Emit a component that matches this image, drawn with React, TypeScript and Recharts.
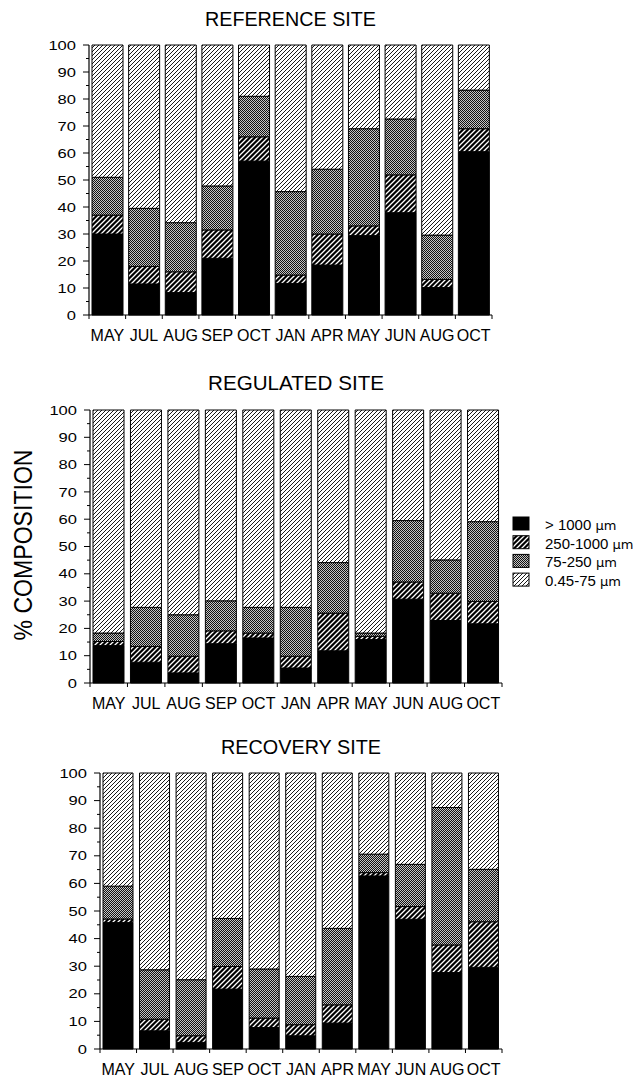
import { BarChart, Bar, XAxis, YAxis } from "recharts";

const months = ["MAY", "JUL", "AUG", "SEP", "OCT", "JAN", "APR", "MAY", "JUN", "AUG", "OCT"];
const yTicks = [0, 5, 10, 15, 20, 25, 30, 35, 40, 45, 50, 55, 60, 65, 70, 75, 80, 85, 90, 95, 100];

// REFERENCE SITE (% composition by size class)
const refOver1000 = [30, 11.5, 8.3, 21, 57, 11.7, 18.5, 29.4, 37.9, 10.2, 60.5];
const ref250to1000 = [7, 6.5, 7.7, 10.5, 9, 3.1, 11.5, 3.6, 14, 3, 8.5];
const ref75to250 = [14, 21.5, 18.2, 16.3, 15, 30.9, 24, 36, 20.7, 16.4, 14.3];
const ref045to75 = [49, 60.5, 65.8, 52.2, 19, 54.3, 46, 31, 27.4, 70.4, 16.7];

// REGULATED SITE
const regOver1000 = [13.7, 7.6, 3.7, 14.4, 16.5, 5.5, 11.8, 15.9, 30.7, 22.9, 21.7];
const reg250to1000 = [1.5, 5.8, 6.1, 4.7, 1.8, 4.3, 13.8, 1.2, 6.3, 10, 8.2];
const reg75to250 = [3.1, 14.3, 15.2, 11, 9.4, 17.9, 18.5, 1.2, 22.5, 12.2, 29.2];
const reg045to75 = [81.7, 72.3, 75, 69.9, 72.3, 72.3, 55.9, 81.7, 40.5, 54.9, 40.9];

// RECOVERY SITE
const recOver1000 = [45.8, 6.6, 2.4, 21.7, 7.8, 4.8, 9.4, 62.7, 47, 27.7, 29.6];
const rec250to1000 = [1.3, 4.2, 2.4, 8.2, 3.4, 4, 6.6, 1.2, 4.6, 10, 16.5];
const rec75to250 = [11.9, 17.9, 20.3, 17.4, 17.8, 17.5, 27.7, 6.7, 15.3, 49.8, 19];
const rec045to75 = [41, 71.3, 74.9, 52.7, 71, 73.7, 56.3, 29.4, 33.1, 12.5, 34.9];

const legendLabels = ["> 1000 ", "250-1000 ", "75-250 ", "0.45-75 "];

const FONT = "'Liberation Sans', Arial, Helvetica, sans-serif";
const Y_W = 60;
const X_H = 30;

function rows(a: number[], b: number[], c: number[], d: number[]) {
  return months.map((m, i) => ({ idx: i, month: m, a: a[i], b: b[i], c: c[i], d: d[i] }));
}

const charts = [
  { title: "REFERENCE SITE", top: 0, height: 350, plotLeft: 89, plotRight: 492, plotTop: 45, plotBottom: 315, barSize: 31, data: rows(refOver1000, ref250to1000, ref75to250, ref045to75), titleY: 25.5, titleLen: 171 },
  { title: "REGULATED SITE", top: 360, height: 360, plotLeft: 90, plotRight: 502, plotTop: 410, plotBottom: 683, barSize: 31, data: rows(regOver1000, reg250to1000, reg75to250, reg045to75), titleY: 390, titleLen: 176 },
  { title: "RECOVERY SITE", top: 725, height: 356, plotLeft: 100, plotRight: 502, plotTop: 773, plotBottom: 1049, barSize: 30, data: rows(recOver1000, rec250to1000, rec75to250, rec045to75), titleY: 753.5, titleLen: 160 },
];

function YTick(props: any) {
  const { x, y, payload } = props;
  const ax = x + 9;
  const major = payload.value % 10 === 0;
  const s = String(payload.value);
  return (
    <g>
      <line x1={ax - (major ? 6 : 3)} x2={ax} y1={y} y2={y} stroke="#000" strokeWidth={1} />
      {major && (
        <text
          x={ax - 13}
          y={y}
          dy={4.6}
          textAnchor="end"
          fontSize={13}
          fontFamily={FONT}
          fill="#000"
          textLength={9.2 * s.length}
          lengthAdjust="spacingAndGlyphs"
        >
          {s}
        </text>
      )}
    </g>
  );
}

function makeXTick(band: number) {
  return function XTick(props: any) {
    const { x, y, payload, index } = props;
    const ay = y - 4;
    return (
      <g>
        <line x1={x - band / 2} x2={x - band / 2} y1={ay} y2={ay + 4} stroke="#000" />
        {index === months.length - 1 && (
          <line x1={x + band / 2} x2={x + band / 2} y1={ay} y2={ay + 4} stroke="#000" />
        )}
        <text x={x} y={ay + 26} textAnchor="middle" fontSize={16} fontFamily={FONT} fill="#000">
          {months[payload.value]}
        </text>
      </g>
    );
  };
}

function Patterns() {
  return (
    <svg width={0} height={0} style={{ position: "absolute" }}>
      <defs>
        <pattern id="pFine" patternUnits="userSpaceOnUse" width={4} height={4}>
          <rect width={4} height={4} fill="#fff" />
          <path d="M0,4 L4,0 M-1,1 L1,-1 M3,5 L5,3" stroke="#000" strokeWidth={0.9} />
        </pattern>
        <pattern id="pCoarse" patternUnits="userSpaceOnUse" width={5} height={5}>
          <rect width={5} height={5} fill="#000" />
          <path d="M0,5 L5,0 M-1,1 L1,-1 M4,6 L6,4" stroke="#fff" strokeWidth={1.3} />
        </pattern>
        <pattern id="pDots" patternUnits="userSpaceOnUse" width={2} height={2}>
          <rect width={2} height={2} fill="#c4c4c4" />
          <rect x={0} y={0} width={1} height={1} fill="#111" />
          <rect x={1} y={1} width={1} height={1} fill="#111" />
        </pattern>
      </defs>
    </svg>
  );
}

const fills = ["#000", "url(#pCoarse)", "url(#pDots)", "url(#pFine)"];

export default function App() {
  return (
    <div style={{ position: "absolute", left: 0, top: 0, width: 638, height: 1081, background: "#fff", fontFamily: FONT }}>
      <Patterns />
      {charts.map((c, ci) => {
        const band = (c.plotRight - c.plotLeft) / months.length;
        const XTick = makeXTick(band);
        return (
          <div key={ci} style={{ position: "absolute", left: 0, top: c.top }}>
            <BarChart
              width={638}
              height={c.height}
              data={c.data}
              barCategoryGap={0}
              margin={{
                left: c.plotLeft - Y_W,
                right: 638 - c.plotRight,
                top: c.plotTop - c.top,
                bottom: c.top + c.height - c.plotBottom - X_H,
              }}
            >
              <XAxis
                dataKey="idx"
                type="category"
                height={X_H}
                tickLine={false}
                tickSize={4}
                tickMargin={0}
                axisLine={{ stroke: "#000", strokeWidth: 1.2 }}
                tick={<XTick />}
                interval={0}
              />
              <YAxis
                width={Y_W}
                domain={[0, 100]}
                ticks={yTicks}
                interval={0}
                tickLine={false}
                tickSize={6}
                tickMargin={3}
                axisLine={{ stroke: "#000", strokeWidth: 1.2 }}
                tick={<YTick />}
              />
              {["a", "b", "c", "d"].map((k, i) => (
                <Bar
                  key={k}
                  dataKey={k}
                  stackId="s"
                  fill={fills[i]}
                  stroke="#000"
                  strokeWidth={1}
                  barSize={c.barSize}
                  isAnimationActive={false}
                />
              ))}
            </BarChart>
          </div>
        );
      })}
      <svg width={638} height={1081} style={{ position: "absolute", left: 0, top: 0, pointerEvents: "none" }}>
        {charts.map((c, ci) => (
          <text
            key={ci}
            x={(c.plotLeft + c.plotRight) / 2}
            y={c.titleY}
            textAnchor="middle"
            fontSize={19.5}
            fontFamily={FONT}
            textLength={c.titleLen}
            lengthAdjust="spacingAndGlyphs"
          >
            {c.title}
          </text>
        ))}
        <text
          transform="translate(32,545) rotate(-90)"
          textAnchor="middle"
          fontSize={25}
          fontFamily={FONT}
          textLength={191}
          lengthAdjust="spacingAndGlyphs"
        >
          % COMPOSITION
        </text>
        {legendLabels.map((l, i) => (
          <g key={i}>
            <rect x={513} y={517 + i * 18.7} width={16} height={13} fill={fills[i]} stroke="#000" strokeWidth={1} />
            <text x={545} y={530 + i * 18.7} fontSize={15} fontFamily={FONT} fill="#000">
              {l}
              <tspan fontSize={13} fontFamily="'DejaVu Sans', sans-serif" fill="#000">
                µm
              </tspan>
            </text>
          </g>
        ))}
      </svg>
    </div>
  );
}
